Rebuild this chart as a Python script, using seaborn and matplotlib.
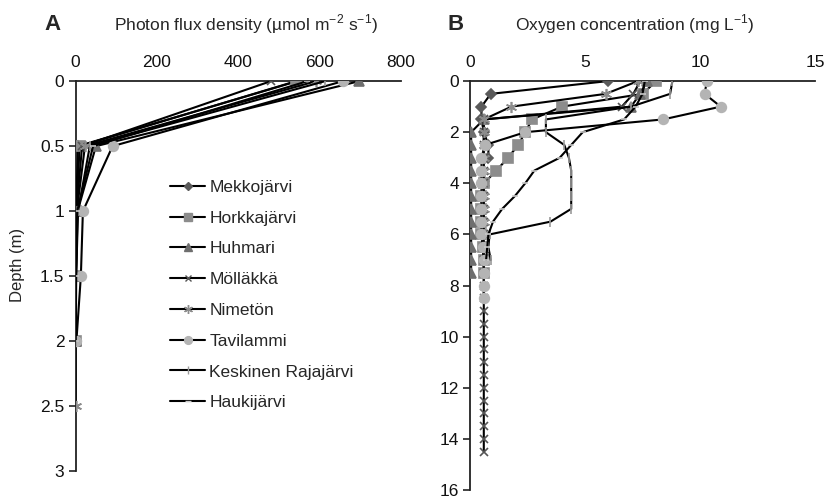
import matplotlib
matplotlib.use("Agg")
import matplotlib.pyplot as plt
from matplotlib.lines import Line2D
import seaborn as sns
import pandas as pd

# ---- Lakes and marker styling -------------------------------------------
lakes = ["Mekkojärvi", "Horkkajärvi", "Huhmari", "Mölläkkä",
         "Nimetön", "Tavilammi", "Keskinen Rajajärvi", "Haukijärvi"]

# ---- A: photon flux density (µmol m-2 s-1) by depth (m) -----------------
pfd_depth = {
    "Mekkojärvi":         [0, 0.5, 1, 1.5, 2],
    "Horkkajärvi":        [0, 0.5, 1, 1.5, 2],
    "Huhmari":            [0, 0.5, 1, 1.5, 2],
    "Mölläkkä":           [0, 0.5, 1, 1.5, 2],
    "Nimetön":            [0, 0.5, 1, 1.5, 2, 2.5],
    "Tavilammi":          [0, 0.5, 1, 1.5, 2],
    "Keskinen Rajajärvi": [0, 0.5, 1, 1.5, 2],
    "Haukijärvi":         [0, 0.5, 1, 1.5, 2],
}
pfd_value = {
    "Mekkojärvi":         [545, 6, 1, 0.3, 0.1],
    "Horkkajärvi":        [542, 10, 2, 0.5, 0.1],
    "Huhmari":            [697, 50, 5, 1, 0.3],
    "Mölläkkä":           [480, 16, 2, 0.5, 0.2],
    "Nimetön":            [591, 23, 3, 0.8, 0.2, 0.1],
    "Tavilammi":          [657, 91, 18, 13, 2],
    "Keskinen Rajajärvi": [613, 35, 6, 1.5, 0.5],
    "Haukijärvi":         [570, 43, 4, 1, 0.3],
}

# ---- B: oxygen concentration (mg L-1) by depth (m) ----------------------
ox_depth = {
    "Mekkojärvi":         [0, 0.5, 1, 1.5, 2, 2.5, 3],
    "Horkkajärvi":        [0, 0.5, 1, 1.5, 2, 2.5, 3, 3.5, 4, 4.5, 5, 5.5, 6, 6.5, 7, 7.5],
    "Huhmari":            [0, 0.5, 1, 1.5, 2, 2.5, 3, 3.5, 4, 4.5, 5, 5.5, 6, 6.5, 7, 7.5],
    "Mölläkkä":           [0, 0.5, 1, 1.5, 2, 2.5, 3, 3.5, 4, 4.5, 5, 5.5, 6, 6.5, 7, 7.5,
                           8, 8.5, 9, 9.5, 10, 10.5, 11, 11.5, 12, 12.5, 13, 13.5, 14, 14.5],
    "Nimetön":            [0, 0.5, 1, 1.5, 2, 2.5, 3, 3.5, 4, 4.5, 5, 5.5, 6],
    "Tavilammi":          [0, 0.5, 1, 1.5, 2, 2.5, 3, 3.5, 4, 4.5, 5, 5.5, 6, 6.5, 7, 7.5, 8, 8.5],
    "Keskinen Rajajärvi": [0, 0.5, 1, 1.5, 2, 2.5, 3, 3.5, 4, 4.5, 5, 5.5, 6, 6.5, 7],
    "Haukijärvi":         [0, 0.5, 1, 1.5, 2, 2.5, 3, 3.5, 4, 4.5, 5, 5.5, 6, 6.5, 7],
}
ox_value = {
    "Mekkojärvi":         [6.0, 0.9, 0.5, 0.5, 0.6, 0.8, 0.8],
    "Horkkajärvi":        [8.1, 7.5, 4.0, 2.7, 2.4, 2.1, 1.65, 1.15, 0.6, 0.5, 0.5, 0.5, 0.5,
                           0.55, 0.6, 0.6],
    "Huhmari":            [7.7, 7.4, 7.0, 0.6, 0.05, 0.05, 0.05, 0.05, 0.05, 0.05, 0.05, 0.05,
                           0.05, 0.05, 0.05, 0.05],
    "Mölläkkä":           [7.4, 7.1, 6.6, 0.6, 0.6, 0.6, 0.6, 0.6, 0.6, 0.6, 0.6, 0.6, 0.6,
                           0.6, 0.6, 0.6, 0.6, 0.6, 0.6, 0.6, 0.6, 0.6, 0.6, 0.6, 0.6, 0.6,
                           0.6, 0.6, 0.6, 0.6],
    "Nimetön":            [7.3, 5.9, 1.8, 0.6, 0.6, 0.6, 0.6, 0.6, 0.6, 0.6, 0.6, 0.6, 0.6],
    "Tavilammi":          [10.3, 10.2, 10.9, 8.4, 2.4, 0.65, 0.5, 0.5, 0.5, 0.5, 0.5, 0.5,
                           0.5, 0.55, 0.6, 0.6, 0.6, 0.6],
    "Keskinen Rajajärvi": [8.8, 8.7, 7.0, 3.3, 3.3, 4.1, 4.3, 4.4, 4.4, 4.4, 4.4, 3.5, 0.85,
                           0.8, 0.9],
    "Haukijärvi":         [7.6, 7.5, 7.2, 6.7, 4.9, 4.4, 3.9, 2.8, 2.4, 1.95, 1.4, 1.0, 0.8,
                           0.75, 0.7],
}

styles = {
    "Mekkojärvi":         dict(marker="D", mfc="#5a5a5a", mec="#5a5a5a", ms=5),
    "Horkkajärvi":        dict(marker="s", mfc="#8c8c8c", mec="#8c8c8c", ms=6.5),
    "Huhmari":            dict(marker="^", mfc="#6e6e6e", mec="#6e6e6e", ms=6.5),
    "Mölläkkä":           dict(marker="x", mfc="#555555", mec="#555555", ms=6),
    "Nimetön":            dict(marker=(6, 2, 0), mfc="#8c8c8c", mec="#8c8c8c", ms=8),
    "Tavilammi":          dict(marker="o", mfc="#b4b4b4", mec="#b4b4b4", ms=7),
    "Keskinen Rajajärvi": dict(marker="|", mfc="#9a9a9a", mec="#9a9a9a", ms=7),
    "Haukijärvi":         dict(marker="_", mfc="#c8c8c8", mec="#c8c8c8", ms=5),
}

sns.set_theme(style="ticks")
plt.rcParams["font.family"] = ["Liberation Sans", "DejaVu Sans"]

fig = plt.figure(figsize=(8.26, 5.03), dpi=100)
ax_a = fig.add_axes([0.0915, 0.0636, 0.394, 0.775])
ax_b = fig.add_axes([0.569, 0.0258, 0.4177, 0.813])


def draw_profiles(ax, depth, value):
    for lake in lakes:
        df = pd.DataFrame({"value": value[lake], "depth": depth[lake]})
        st = styles[lake]
        sns.lineplot(data=df, x="value", y="depth", ax=ax, sort=False,
                     estimator=None, color="black", linewidth=1.5,
                     marker=st["marker"], markersize=st["ms"],
                     markerfacecolor=st["mfc"], markeredgecolor=st["mec"],
                     markeredgewidth=1.2, legend=False, zorder=3)


draw_profiles(ax_a, pfd_depth, pfd_value)
draw_profiles(ax_b, ox_depth, ox_value)

for ax in (ax_a, ax_b):
    ax.xaxis.tick_top()
    ax.xaxis.set_label_position("top")
    sns.despine(ax=ax, top=False, bottom=True, right=True)
    for s in ("top", "left"):
        ax.spines[s].set_linewidth(1.3)
        ax.spines[s].set_color("#222222")
    ax.tick_params(axis="both", direction="out", length=5, width=1.2,
                   colors="#222222", labelsize=12.5, labelcolor="#111111", pad=3)
    ax.set_xlabel("")
    ax.set_ylabel("")

ax_a.set_xlim(0, 800)
ax_a.set_ylim(3, 0)
ax_a.set_xticks([0, 200, 400, 600, 800])
ax_a.set_yticks([0, 0.5, 1, 1.5, 2, 2.5, 3])
ax_a.set_yticklabels(["0", "0.5", "1", "1.5", "2", "2.5", "3"])

ax_b.set_xlim(0, 15)
ax_b.set_ylim(16, 0)
ax_b.set_xticks([0, 5, 10, 15])
ax_b.set_yticks(range(0, 17, 2))

fig.text(0.021, 0.473, "Depth (m)", rotation=90, ha="center", va="center",
         fontsize=12)

fig.text(0.063, 0.952, "A", fontsize=16, fontweight="bold", ha="center", va="center")
fig.text(0.298, 0.952, "Photon flux density (µmol m$^{\\mathregular{-2}}$ s$^{\\mathregular{-1}}$)",
         fontsize=12.5, ha="center", va="center")
fig.text(0.551, 0.952, "B", fontsize=16, fontweight="bold", ha="center", va="center")
fig.text(0.768, 0.952, "Oxygen concentration (mg L$^{\\mathregular{-1}}$)",
         fontsize=12.5, ha="center", va="center")

handles = []
for lake in lakes:
    st = styles[lake]
    handles.append(Line2D([], [], color="black", linewidth=1.5,
                          marker=st["marker"], markersize=st["ms"] * 0.8,
                          markerfacecolor=st["mfc"], markeredgecolor=st["mec"],
                          markeredgewidth=1.0))
ax_a.legend(handles, lakes, loc="upper left", bbox_to_anchor=(0.27, 0.765),
            frameon=False, fontsize=12.5, handlelength=2.0, handletextpad=0.25,
            labelspacing=0.9, borderaxespad=0)

fig.savefig("out.png", dpi=100)
